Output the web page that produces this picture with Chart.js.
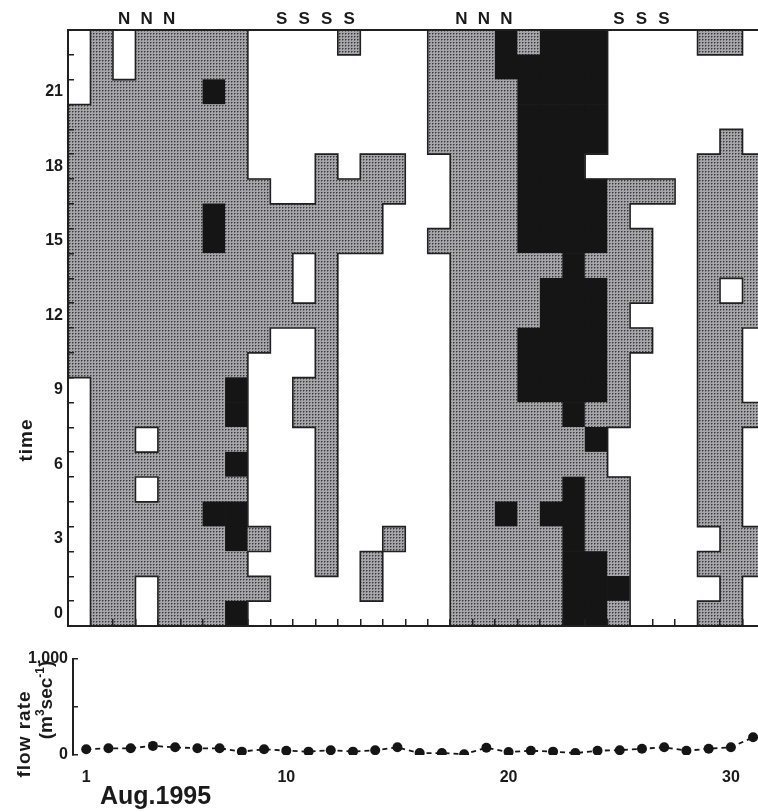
<!DOCTYPE html>
<html><head><meta charset="utf-8">
<script src="https://cdn.jsdelivr.net/npm/chart.js@4.4.0/dist/chart.umd.min.js"></script>
<style>
html,body{margin:0;padding:0;background:#fff;width:758px;height:812px;overflow:hidden;}
#wrap{position:relative;width:758px;height:812px;overflow:hidden;background:#fff;}
#grid{position:absolute;left:0;top:0;}
#flow{position:absolute;left:0;top:630px;}
</style></head><body>
<div id="wrap">
<canvas id="grid" width="780" height="640"></canvas>
<canvas id="flow" width="780" height="182"></canvas>
</div>
<script>
// ---------- data ----------
const days = [1,2,3,4,5,6,7,8,9,10,11,12,13,14,15,16,17,18,19,20,21,22,23,24,25,26,27,28,29,30,31];
const hours = [0,1,2,3,4,5,6,7,8,9,10,11,12,13,14,15,16,17,18,19,20,21,22,23];
const hourTickLabels = ['0','3','6','9','12','15','18','21'];
const topMarks = ['','','N','N','N','','','','','S','S','S','S','','','','','N','N','N','','','','','S','S','S','','','',''];
// cell class per day, string index = hour 0..23 ; W = white, G = dotted grey, B = black
const cellClasses = [
  'WWWWWWWWWWGGGGGGGGGGGWWW', // 1
  'GGGGGGGGGGGGGGGGGGGGGGGG', // 2
  'GGGGGGGGGGGGGGGGGGGGGGWW', // 3
  'WWGGGWGWGGGGGGGGGGGGGGGG', // 4
  'GGGGGGGGGGGGGGGGGGGGGGGG', // 5
  'GGGGGGGGGGGGGGGGGGGGGGGG', // 6
  'GGGGBGGGGGGGGGGBBGGGGBGG', // 7
  'BGGBBGBGBBGGGGGGGGGGGGGG', // 8
  'WGWGWWWWWWWGGGGGGGWWWWWW', // 9
  'WWWWWWWWWWWWGGGGGWWWWWWW', // 10
  'WWWWWWWWGGWWGWWGGWWWWWWW', // 11
  'WWGGGGGGGGGGGGGGGGGWWWWW', // 12
  'WWWWWWWWWWWWWWWGGGWWWWWG', // 13
  'WGGWWWWWWWWWWWWGGGGWWWWW', // 14
  'WWWGWWWWWWWWWWWWWGGWWWWW', // 15
  'WWWWWWWWWWWWWWWWWWWWWWWW', // 16
  'WWWWWWWWWWWWWWWGWWWGGGGG', // 17
  'GGGGGGGGGGGGGGGGGGGGGGGG', // 18
  'GGGGGGGGGGGGGGGGGGGGGGGG', // 19
  'GGGGBGGGGGGGGGGGGGGGGGBB', // 20
  'GGGGGGGGGBBBGGGBBBBBBBBG', // 21
  'GGGGBGGGGBBBBBGBBBBBBBBB', // 22
  'BBBBBBGGBBBBBBBBBBBBBBBB', // 23
  'BBBGGGGBGBBBBBGBBBWBBBBB', // 24
  'GBGGGGWWGGGGGGGGGGWWWWWW', // 25
  'WWWWWWWWWWWGWGGGWGWWWWWW', // 26
  'WWWWWWWWWWWWWWWWWGWWWWWW', // 27
  'WWWWWWWWWWWWWWWWWWWWWWWW', // 28
  'GWGWGGGGGGGGGGGGGGGWWWWG', // 29
  'GGGGGGGGGGGGGWGGGGGGWWWG', // 30
  'WWGGWWWWGWWWGGGGGGGWWWWW'  // 31
];
// daily flow rate, m3/sec
const flowRate = [60,70,70,95,80,70,70,35,60,45,35,50,35,50,80,20,20,8,75,30,45,35,20,45,50,65,80,45,65,80,185];
const flowTickDays = [1,10,20,30];
const flowAxisTicks = [0,500,1000];

// ---------- styles ----------
const FONT = '"Liberation Sans", Arial, Helvetica, sans-serif';
const INK = '#1a1a1a';
const dotPattern = (() => {
  const c = document.createElement('canvas'); c.width = 3; c.height = 3;
  const g = c.getContext('2d');
  g.fillStyle = '#a6a6aa'; g.fillRect(0,0,3,3);
  g.fillStyle = '#707074'; g.fillRect(1,0,1,1); g.fillRect(0,1,1,1);
  g.fillStyle = '#383838'; g.fillRect(0,0,1,1);
  return g.createPattern(c, 'repeat');
})();
const fillFor = { W: '#ffffff', G: dotPattern, B: '#151515' };
const cls = (d, h) => (d < 0 || d >= days.length || h < 0 || h >= hours.length) ? null : cellClasses[d][h];
const EDGE = 1.6;

// outlines between white and non-white cells, positioned through the chart scales
const edgePlugin = {
  id: 'cellEdges',
  afterDatasetsDraw(chart) {
    const xs = chart.scales.x, ys = chart.scales.y, ctx = chart.ctx;
    const half = (xs.getPixelForValue(1) - xs.getPixelForValue(0)) / 2;
    ctx.save();
    ctx.strokeStyle = '#202020'; ctx.lineWidth = EDGE; ctx.lineCap = 'square';
    ctx.beginPath();
    days.forEach((_, d) => {
      const xc = xs.getPixelForValue(d);
      hours.forEach(h => {
        const c = cls(d, h), up = cls(d, h + 1), right = cls(d + 1, h);
        if (up !== null && (c === 'W') !== (up === 'W')) {
          const y = ys.getPixelForValue(h + 1);
          ctx.moveTo(xc - half, y); ctx.lineTo(xc + half, y);
        }
        if (right !== null && (c === 'W') !== (right === 'W')) {
          const x = xc + half;
          ctx.moveTo(x, ys.getPixelForValue(h)); ctx.lineTo(x, ys.getPixelForValue(h + 1));
        }
      });
    });
    ctx.stroke();
    ctx.restore();
  }
};

const textPluginGrid = {
  id: 'gridText',
  afterDraw(chart) {
    const ctx = chart.ctx;
    ctx.save();
    ctx.fillStyle = INK;
    ctx.translate(27, 440);
    ctx.rotate(-Math.PI / 2);
    ctx.font = 'bold 19px ' + FONT;
    ctx.textAlign = 'center'; ctx.textBaseline = 'middle';
    try { ctx.letterSpacing = '1px'; } catch (e) {}
    ctx.fillText('time', 0, 0);
    ctx.restore();
  }
};

new Chart(document.getElementById('grid'), {
  type: 'bar',
  data: {
    labels: days.map(String),
    datasets: hours.map(h => ({
      label: 'h' + h,
      data: days.map(() => [h, h + 1]),
      backgroundColor: c => fillFor[cls(c.dataIndex, h)],
      borderWidth: 0,
      barPercentage: 1,
      categoryPercentage: 1,
      grouped: false
    }))
  },
  options: {
    responsive: false, animation: false, events: [],
    layout: { padding: { left: 0, top: 0, right: 15, bottom: 0 } },
    plugins: { legend: { display: false }, tooltip: { enabled: false } },
    scales: {
      x: {
        type: 'category', position: 'bottom', offset: true, stacked: true,
        grid: { offset: true, drawOnChartArea: false, drawTicks: true, tickLength: -7, color: '#202020', lineWidth: 1.5, z: 1 },
        border: { display: true, color: '#202020', width: 2, z: 1 },
        ticks: { display: false },
        afterFit: s => { s.height = 14; s.paddingLeft = 0; s.paddingRight = 0; }
      },
      xTop: {
        type: 'category', position: 'top', offset: true, labels: topMarks,
        grid: { display: false, drawTicks: false },
        border: { display: true, color: '#202020', width: 2, z: 1 },
        ticks: { color: INK, font: { family: FONT, size: 17, weight: 'bold' }, padding: 0, autoSkip: false, maxRotation: 0 },
        afterFit: s => { s.height = 30; s.paddingLeft = 0; s.paddingRight = 0; }
      },
      y: {
        type: 'linear', position: 'left', min: 0, max: 24,
        afterBuildTicks: s => { const t = []; for (let v = 0; v <= 24; v += 0.5) t.push({ value: v }); s.ticks = t; },
        ticks: {
          autoSkip: false, padding: 11, color: INK,
          font: { family: FONT, size: 16, weight: 'bold' },
          callback: v => (v % 1 === 0.5 && hourTickLabels.includes(String(v - 0.5))) ? String(v - 0.5) : ''
        },
        grid: {
          drawOnChartArea: false, tickLength: -6, lineWidth: 1.5, z: 1,
          color: c => (c.tick && Number.isInteger(c.tick.value) && c.tick.value > 0 && c.tick.value < 24) ? '#202020' : 'rgba(0,0,0,0)'
        },
        border: { display: true, color: '#202020', width: 2, z: 1 },
        afterFit: s => { s.width = 68; s.paddingTop = 0; s.paddingBottom = 0; }
      }
    }
  },
  plugins: [edgePlugin, textPluginGrid]
});

const textPluginFlow = {
  id: 'flowText',
  afterDraw(chart) {
    const ctx = chart.ctx;
    ctx.save();
    ctx.fillStyle = INK;
    // "flow rate"
    ctx.save();
    ctx.translate(25, 104);
    ctx.rotate(-Math.PI / 2);
    ctx.font = 'bold 19px ' + FONT;
    try { ctx.letterSpacing = '1px'; } catch (e) {}
    ctx.textAlign = 'center'; ctx.textBaseline = 'middle';
    ctx.fillText('flow rate', 0, 0);
    ctx.restore();
    // "(m3sec-1)" with superscripts
    ctx.save();
    ctx.translate(45, 70);
    ctx.rotate(-Math.PI / 2);
    ctx.textAlign = 'left'; ctx.textBaseline = 'alphabetic';
    const parts = [['(m', 19, 0], ['3', 12, -8], ['sec', 19, 0], ['-1', 12, -8], [')', 19, 0]];
    let total = 0;
    parts.forEach(p => { ctx.font = 'bold ' + p[1] + 'px ' + FONT; total += ctx.measureText(p[0]).width; });
    let x = -total / 2;
    parts.forEach(p => { ctx.font = 'bold ' + p[1] + 'px ' + FONT; ctx.fillText(p[0], x, 7 + p[2]); x += ctx.measureText(p[0]).width; });
    ctx.restore();
    // "Aug.1995"
    ctx.font = 'bold 25px ' + FONT;
    ctx.textAlign = 'left'; ctx.textBaseline = 'middle';
    ctx.fillText('Aug.1995', 100, 167);
    ctx.restore();
  }
};

new Chart(document.getElementById('flow'), {
  type: 'line',
  data: {
    datasets: [{
      data: days.map((d, i) => ({ x: d, y: flowRate[i] })),
      borderColor: '#151515', borderWidth: 1.8, borderDash: [5, 4],
      pointRadius: 5, pointBackgroundColor: '#151515', pointBorderWidth: 0,
      tension: 0, fill: false
    }]
  },
  options: {
    responsive: false, animation: false, events: [],
    layout: { padding: { left: 0, top: 29, right: 18, bottom: 0 } },
    plugins: { legend: { display: false }, tooltip: { enabled: false } },
    scales: {
      x: {
        type: 'linear', min: 0.405, max: 31.4,
        afterBuildTicks: s => { s.ticks = flowTickDays.map(v => ({ value: v })); },
        ticks: { color: INK, font: { family: FONT, size: 16, weight: 'bold' }, padding: 5, maxRotation: 0, callback: v => String(v) },
        grid: { display: false },
        border: { display: false },
        afterFit: s => { s.height = 57; s.paddingLeft = 0; s.paddingRight = 0; }
      },
      y: {
        type: 'linear', min: 0, max: 1000,
        afterBuildTicks: s => { s.ticks = flowAxisTicks.map(v => ({ value: v })); },
        ticks: { color: INK, font: { family: FONT, size: 16, weight: 'bold' }, padding: 10,
          callback: v => v === 0 ? '0' : (v === 1000 ? '1,000' : '') },
        grid: { drawOnChartArea: false, tickLength: -5, color: '#202020', lineWidth: 1.5, z: 1 },
        border: { display: true, color: '#202020', width: 2, z: 1 },
        afterFit: s => { s.width = 73; s.paddingTop = 0; s.paddingBottom = 0; }
      }
    }
  },
  plugins: [textPluginFlow]
});
</script>
</body></html>
